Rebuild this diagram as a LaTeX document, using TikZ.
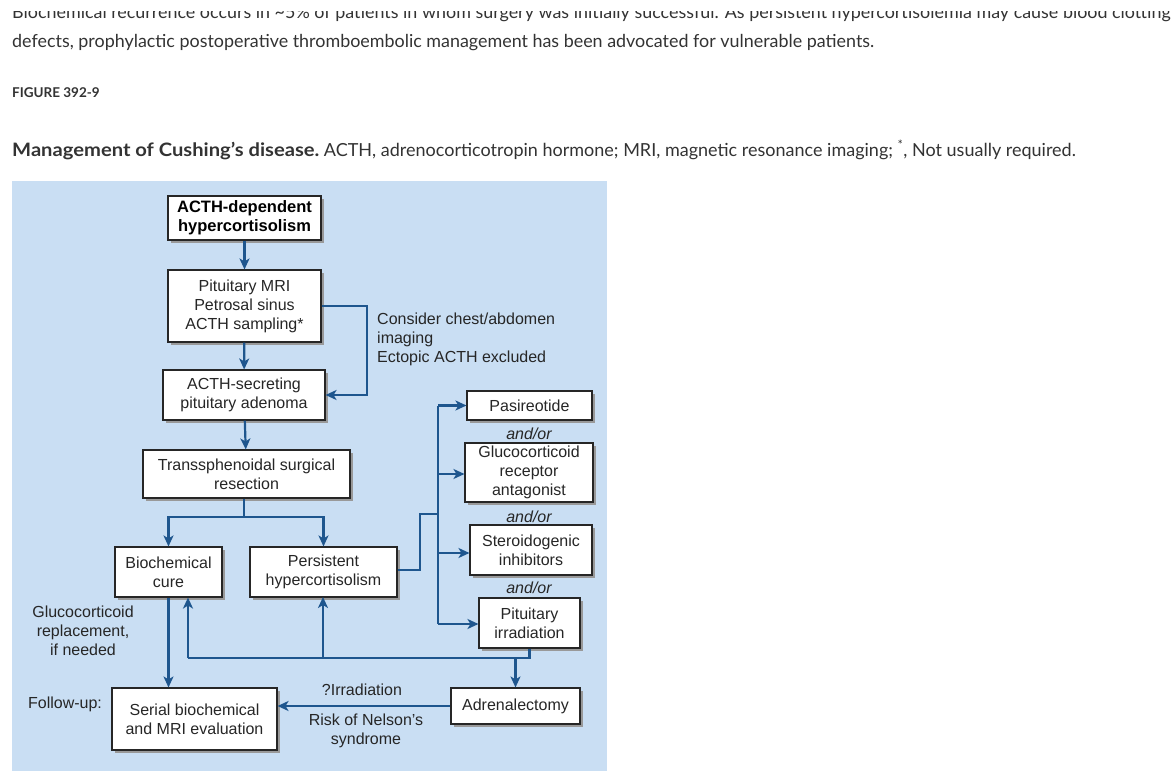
\documentclass[tikz,border=0pt]{standalone}
\usepackage{fontspec}
\setmainfont{Liberation Sans}
\newfontfamily\pagefont{Lato}
\usetikzlibrary{arrows.meta,shadows}
\definecolor{bgblue}{RGB}{201,222,243}
\definecolor{arrowblue}{RGB}{30,86,142}
\definecolor{txt}{RGB}{38,38,38}
\definecolor{pagetxt}{RGB}{51,51,51}
\tikzset{
  box/.style={draw=black!85, line width=1.1pt, fill=white, align=center,
    font=\fontsize{16}{19}\selectfont, text=txt, inner sep=0pt,
    general shadow={fill=black!40, shadow xshift=3pt, shadow yshift=-3pt}},
  link/.style={draw=arrowblue, line width=2.2pt},
  arr/.style={link, -{Stealth[length=11pt,width=10pt,inset=3pt]}},
  lbl/.style={font=\fontsize{16}{19}\selectfont, text=txt, align=center, inner sep=0pt},
  pagetext/.style={font=\pagefont\fontsize{17.9}{20}\selectfont, text=pagetxt, inner sep=0pt, anchor=base west}
}
\begin{document}
\begin{tikzpicture}[x=1pt,y=-1pt]
\useasboundingbox (0,0) rectangle (1176,784);
\fill[white] (0,0) rectangle (1176,784);

% page text
\node[pagetext] (p1) at (12,19) {Biochemical recurrence occurs in {\textasciitilde}5\% of patients in whom surgery was initially successful. As persistent hypercortisolemia may cause blood clotting};
\fill[white] (0,0) rectangle (1176,11.5);
\node[pagetext] (p2) at (12,48) {defects, prophylactic postoperative thromboembolic management has been advocated for vulnerable patients.};
\node[pagetext, font=\pagefont\bfseries\fontsize{13.5}{15}\selectfont] (fig) at (12,97) {FIGURE 392-9};
\node[pagetext, font=\pagefont\fontsize{18}{21}\selectfont] (cap) at (12,156) {\scalebox{1.09}[1]{\fontsize{18.5}{21}\selectfont\bfseries Management of Cushing’s disease.} ACTH, adrenocorticotropin hormone; MRI, magnetic resonance imaging; \textsuperscript{*}, Not usually required.};

% background
\fill[bgblue] (12,181) rectangle (607,771);

% boxes
\node[box, minimum width=153pt, minimum height=44pt, font=\bfseries\fontsize{16.5}{19}\selectfont, text=black] (b1) at (244.5,218) {ACTH-dependent\\hypercortisolism};
\node[box, minimum width=153pt, minimum height=72pt] (b2) at (244.5,306) {Pituitary MRI\\Petrosal sinus\\ACTH sampling*};
\node[box, minimum width=162pt, minimum height=50pt] (b3) at (244,395) {ACTH-secreting\\pituitary adenoma};
\node[box, minimum width=207pt, minimum height=48pt] (b4) at (246.5,474) {Transsphenoidal surgical\\resection};
\node[box, minimum width=107pt, minimum height=50pt] (b5) at (168.5,572) {Biochemical\\cure};
\node[box, minimum width=147pt, minimum height=50pt] (b6) at (323.5,572) {Persistent\\hypercortisolism};
\node[box, minimum width=125pt, minimum height=29pt] (r1) at (529.5,405.5) {Pasireotide};
\node[box, minimum width=128pt, minimum height=59pt] (r2) at (529,472.5) {Glucocorticoid\\receptor\\antagonist};
\node[box, minimum width=122pt, minimum height=50pt] (r3) at (531,550) {Steroidogenic\\inhibitors};
\node[box, minimum width=101pt, minimum height=50pt] (r4) at (529.5,623) {Pituitary\\irradiation};
\node[box, minimum width=129pt, minimum height=36pt] (b7) at (515.5,706) {Adrenalectomy};
\node[box, minimum width=165pt, minimum height=62pt] (b8) at (194.5,719) {Serial biochemical\\and MRI evaluation};

% labels
\node[lbl, align=left, anchor=north west] (lc) at (377,313) {Consider chest/abdomen\\imaging\\Ectopic ACTH excluded};
\node[lbl, font=\itshape\fontsize{16}{19}\selectfont] (ao1) at (529,434) {and/or};
\node[lbl, font=\itshape\fontsize{16}{19}\selectfont] (ao2) at (529,517) {and/or};
\node[lbl, font=\itshape\fontsize{16}{19}\selectfont] (ao3) at (529,588) {and/or};
\node[lbl] (lg) at (83,631) {Glucocorticoid\\replacement,\\if needed};
\node[lbl] (lf) at (65,704) {Follow-up:};
\node[lbl] (li) at (362,690) {?Irradiation};
\node[lbl] (ln) at (366,731) {Risk of Nelson’s\\syndrome};

% connectors
\draw[arr] (b1) -- (b2);
\draw[arr] (b2) -- (b3);
\draw[arr] (b2.east) -- (367,306) |- (b3.east);
\draw[arr] (b3) -- (b4);
\coordinate (split) at (244,517);
\draw[link] (b4.south -| split) -- (split);
\draw[arr] (split) -| (b5.north);
\draw[arr] (split) -| (b6.north);

\coordinate (vt) at (438,405.5);
\coordinate (vb) at (438,624);
\draw[link] (b6.east |- 0,570) -- (420,570) -- (420,514) -- (438,514);
\draw[link] (vt) -- (vb);
\draw[arr] (vt) -- (r1.west);
\draw[arr] (438,474) -- (r2.west |- 0,474);
\draw[arr] (438,553) -- (r3.west |- 0,553);
\draw[arr] (vb) -- (r4.west |- vb);

\coordinate (hl) at (188,658);
\draw[link] (r4.south) -- (r4.south |- hl) -- (hl);
\draw[arr] (hl) -- (hl |- b5.south);
\draw[arr] (323,658) -- (323,597);
\draw[arr] (b7.north |- hl) -- (b7.north);
\draw[arr] (b5.south) -- (b5.south |- b8.north);
\draw[arr] (b7.west) -- (b8.east |- b7.west);
\end{tikzpicture}
\end{document}
